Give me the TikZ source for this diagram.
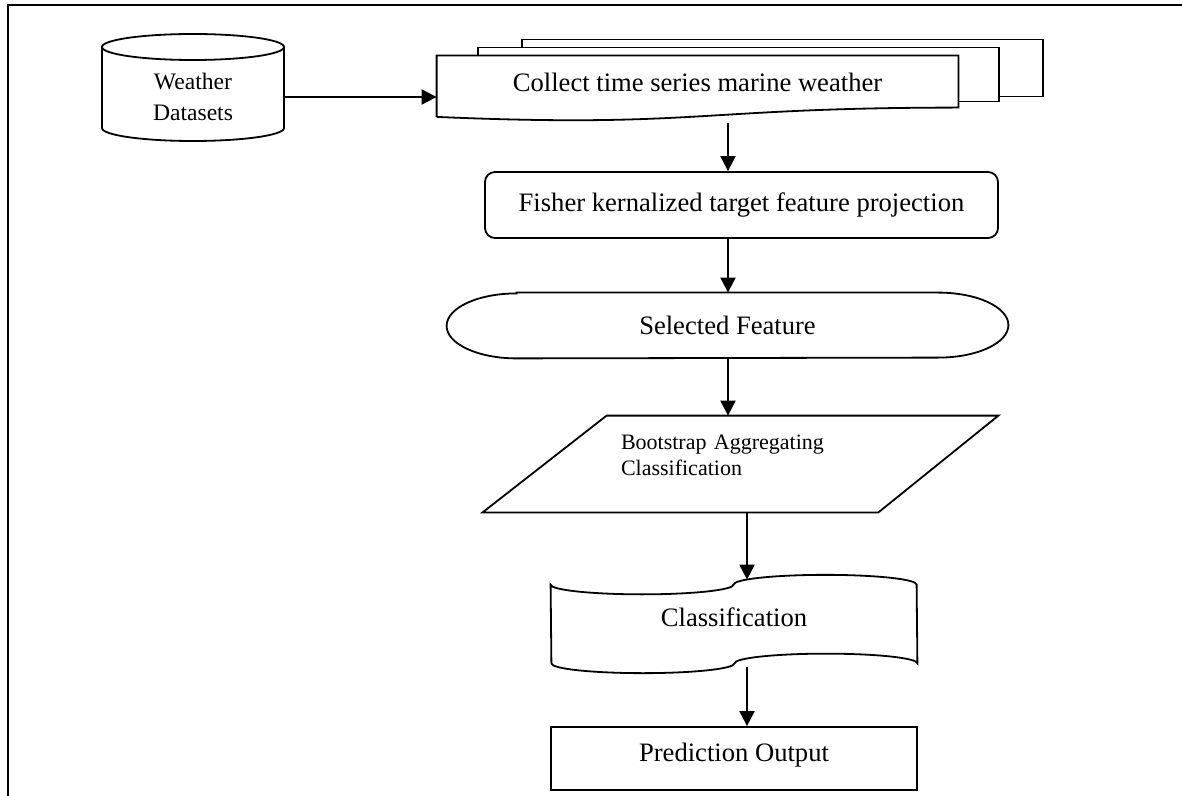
\documentclass[tikz,border=0pt]{standalone}
\usepackage{fontspec}
\setmainfont{Liberation Serif}
\usetikzlibrary{arrows.meta,calc}
\usetikzlibrary{positioning,shapes}
\tikzstyle{line}=[-, line width=0.9pt]
\tikzstyle{flow}=[line width=1pt, -{Triangle[length=7.5pt,width=7.5pt]}]
\tikzstyle{box}=[rectangle, text=black, inner sep=0pt,
		font=\fontsize{13.3}{16}\selectfont]

\begin{document}
\begin{tikzpicture}[x=0.5pt,y=-0.5pt]
    \useasboundingbox (0,0) rectangle (1182,796);
    % frame round the figure
    \draw[line width=1pt] (8,796) -- (8,5) -- (1182,5);

    \coordinate (upx) at (728,0);
    \coordinate (lox) at (747,0);

    \node (Wds) [box, minimum width=91pt, align=center,
    		     font=\fontsize{11.8}{15.5}\selectfont] at (193,97) {Weather\\Datasets};
    \draw[line] ($(Wds.center)+(0,-50)$) ellipse [x radius=45.5pt, y radius=6.5pt];
    \draw[line] ($(Wds.center)+(-91,-50)$) -- ($(Wds.center)+(-91,31)$)
        arc[start angle=180, end angle=360, x radius=45.5pt, y radius=6.5pt]
        -- ($(Wds.center)+(91,-50)$);

    \node (Col) [box, minimum width=260.5pt, minimum height=32.4pt,
    		     text height=9pt, text depth=5.6pt] at (697.5,88.4)
      {Collect time series marine weather};
    % pages behind
    \draw[line] ($(Col.north west)+(85,-8)$) -- ++(0,-8) -- ++(521,0) -- ++(0,57)
        -- ($(Col.north east)+(41,41)$);
    \draw[line] ($(Col.north west)+(41,0)$) -- ++(0,-8) -- ++(521,0) -- ++(0,54)
        -- ($(Col.north east)+(0,46)$);
    \draw[line] ($(Col.south west)+(0,-4.3)$) -- (Col.north west) -- (Col.north east)
        -- ++(0,52) .. controls +(-260.5,0) and +(260.5,11.2) .. ($(Col.south west)+(0,-4.3)$);

    \draw[flow] (Wds.east) -- (Wds.east -| Col.west);

    \node (Fkp) [box, draw, line width=0.9pt, rounded corners=5pt,
    		     minimum width=256.5pt, minimum height=33pt] at (741.5,205)
      {Fisher kernalized target feature projection};

    \draw[flow] ($(Col.south -| upx)+(0,2)$) -- (Fkp.north -| upx);

    \node (Sel) [box, minimum width=280.5pt, minimum height=32.5pt] at (727.5,325.5)
      {Selected Feature};
    \draw[line] ($(Sel.north west)+(70,0)$) -- ($(Sel.north east)+(-70,0)$)
        arc[start angle=90, end angle=-90, x radius=35pt, y radius=16.25pt]
        -- ($(Sel.south west)+(70,0)$)
        arc[start angle=270, end angle=90, x radius=35pt, y radius=16.25pt] -- cycle;

    \draw[flow] (Fkp.south -| upx) -- (Sel.north -| upx);

    \node (Bag) [box, minimum width=257.5pt, minimum height=48pt,
    		     text width=119.5pt, align=left, text height=8pt, text depth=23pt,
    		     font=\fontsize{11}{13.2}\selectfont] at (740.5,464)
      {Bootstrap Aggregating\\Classification};
    \draw[line] ($(Bag.north west)+(124,0)$) -- (Bag.north east)
        -- ($(Bag.south east)+(-120,0)$) -- (Bag.south west) -- cycle;

    \draw[flow] (Sel.south -| upx) -- (Bag.north -| upx);

    \node (Cls) [box, minimum width=183pt, minimum height=39pt,
    		     text height=9pt, text depth=6.2pt] at (734,624) {Classification};
    \draw[line] (Cls.north west)
        arc[start angle=180, end angle=360, x radius=45.75pt, y radius=4.875pt]
        arc[start angle=180, end angle=0, x radius=45.75pt, y radius=4.875pt]
        -- (Cls.south east)
        arc[start angle=0, end angle=180, x radius=45.75pt, y radius=4.875pt]
        arc[start angle=0, end angle=-180, x radius=45.75pt, y radius=4.875pt] -- cycle;

    \draw[flow] (Bag.south -| lox) -- ($(Cls.north -| lox)+(0,-5)$);

    \node (Out) [box, draw, line width=0.9pt, minimum width=183pt, minimum height=31.5pt,
    		     text height=9pt, text depth=5.7pt] at (734,758.5) {Prediction Output};

    \draw[flow] ($(Cls.south -| lox)+(0,4)$) -- (Out.north -| lox);

\end{tikzpicture}
\end{document}
